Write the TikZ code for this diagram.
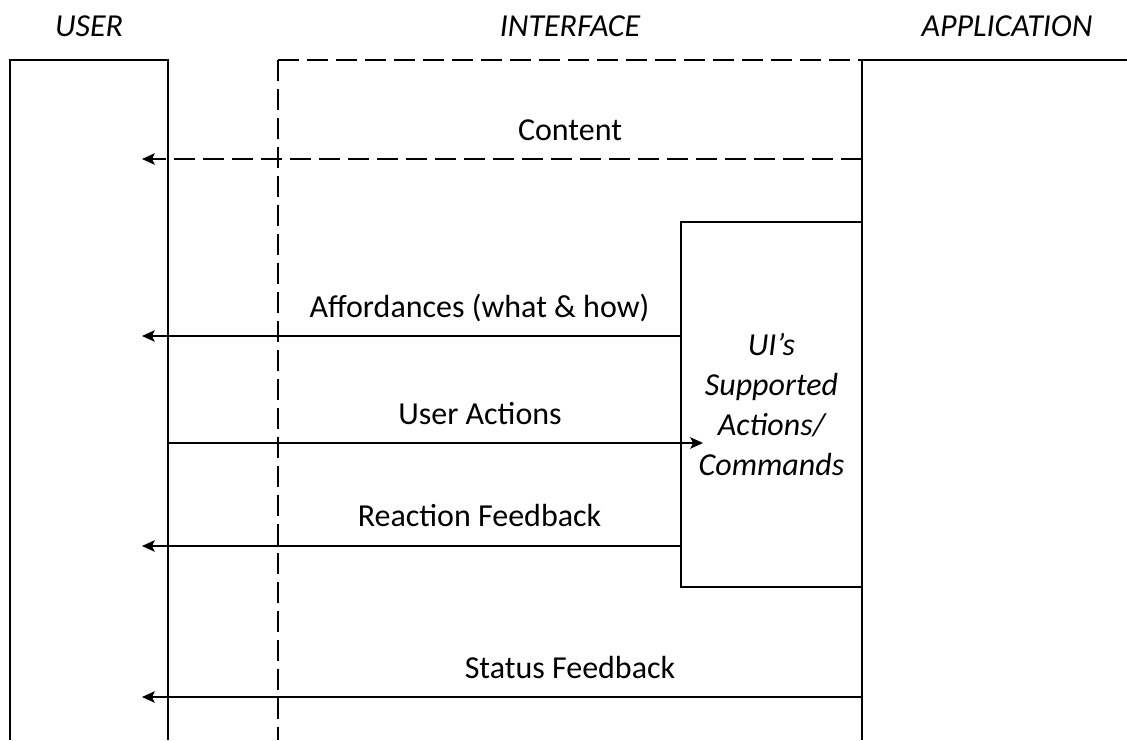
\documentclass[tikz,border=0pt]{standalone}
\usepackage{fontspec}
\setmainfont{Carlito}
\usetikzlibrary{arrows.meta}
\begin{document}
\begin{tikzpicture}[x=0.75pt,y=-0.75pt,
  lane/.style={line width=1.7pt},
  ifline/.style={line width=1.7pt, dash pattern=on 15.75pt off 6pt},
  msg/.style={line width=1.7pt, -{Stealth[length=9.5pt,width=8.5pt,inset=2pt]}},
  lbl/.style={anchor=base, inner sep=0pt, font=\fontsize{24}{30}\selectfont},
  hdr/.style={anchor=base, inner sep=0pt, font=\fontsize{24}{30}\selectfont\itshape},
  cmdbox/.style={draw, line width=1.7pt, inner sep=0pt, minimum width=135.75pt,
    minimum height=273.75pt, align=center, font=\fontsize{24}{30}\selectfont\itshape},
]
\useasboundingbox (0,0) rectangle (1127,740);

% swim-lane borders
\coordinate (uBL) at (10,740);
\coordinate (uTL) at (10,60);
\coordinate (uTR) at (168,60);
\coordinate (uBR) at (168,740);
\draw[lane] (uBL) -- (uTL) -- (uTR) -- (uBR);

\coordinate (iTL) at (278,60);
\coordinate (iBL) at (278,740);
\coordinate (aTL) at (862,60);
\coordinate (aBL) at (862,740);
\coordinate (aTR) at (1127,60);
\draw[ifline] (iTL) -- (iBL);
\draw[ifline] (iTL) -- (aTL);
\draw[lane] (aBL) -- (aTL) -- (aTR);

% lane headings
\node[hdr] (hUser) at (89,36) {USER};
\node[hdr] (hIface) at (570,36) {INTERFACE};
\node[hdr] (hApp) at (1007,36) {APPLICATION};

% supported actions box
\node[cmdbox] (ui) at (771.5,404.5) {UI’s\\Supported\\Actions/\\Commands};

% message end points
\coordinate (aContent) at (862,159);
\coordinate (uContent) at (142,159);
\coordinate (uAff) at (142,336);
\coordinate (uAct) at (168,443);
\coordinate (uiAct) at (703,443);
\coordinate (uReact) at (142,546);
\coordinate (aStatus) at (862,697);
\coordinate (uStatus) at (142,697);

% messages
\draw[msg, ifline] (aContent) -- (uContent);
\draw[msg] (ui.west |- uAff) -- (uAff);
\draw[msg] (uAct) -- (uiAct);
\draw[msg] (ui.west |- uReact) -- (uReact);
\draw[msg] (aStatus) -- (uStatus);

% message labels
\node[lbl] (lContent) at (570,140) {Content};
\node[lbl] (lAff) at (479.5,317) {Affordances (what \& how)};
\node[lbl] (lAct) at (480,424) {User Actions};
\node[lbl] (lReact) at (479.5,526) {Reaction Feedback};
\node[lbl] (lStatus) at (570,678) {Status Feedback};
\end{tikzpicture}
\end{document}
